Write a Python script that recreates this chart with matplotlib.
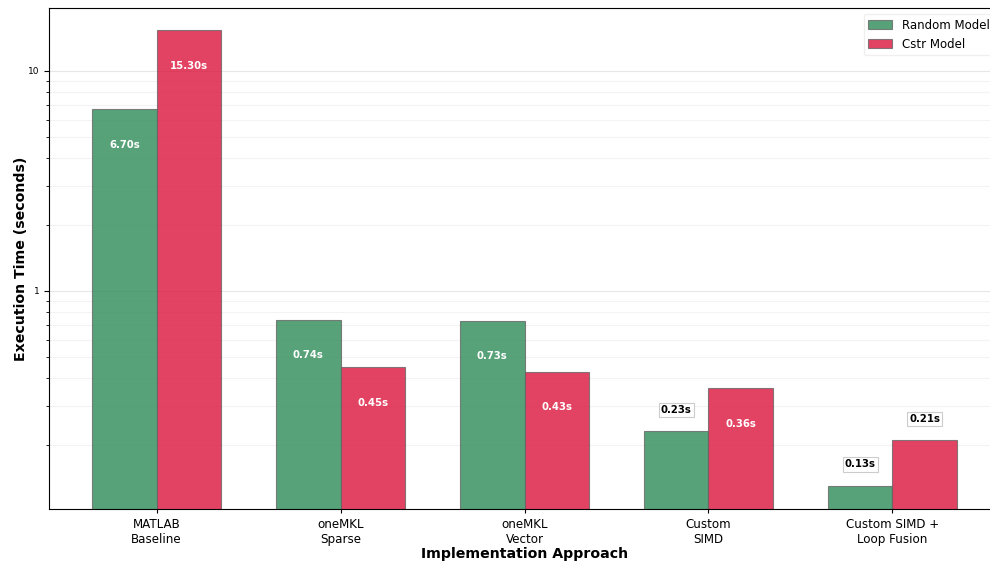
import numpy as np
import matplotlib.pyplot as plt
from matplotlib.ticker import LogLocator, NullFormatter, FuncFormatter

# Data
approaches = ['MATLAB\nBaseline', 'oneMKL\nSparse', 'oneMKL\nVector', 'Custom\nSIMD', 'Custom SIMD +\nLoop Fusion']
random_times = [6.70, 0.74, 0.73, 0.23, 0.13]
cstr_times = [15.30, 0.45, 0.43, 0.36, 0.21]

x = np.arange(len(approaches))
width = 0.35

fig = plt.figure(figsize=(9.9, 5.66), dpi=100)
# axes runs slightly past the right edge, as in the cropped original
ax = fig.add_axes([49 / 990, 57 / 566, 951 / 990, 501 / 566])

bars1 = ax.bar(x - width / 2, random_times, width, label='Random Model',
               color='seagreen', alpha=0.8, edgecolor='#666666', linewidth=0.8)
bars2 = ax.bar(x + width / 2, cstr_times, width, label='Cstr Model',
               color='crimson', alpha=0.8, edgecolor='#666666', linewidth=0.8)

ax.set_yscale('log')
ax.set_ylim(0.102, 19.3)

# Value labels: inside the bar when tall enough, above it in a box otherwise
for bars in (bars1, bars2):
    for b in bars:
        h = b.get_height()
        cx = b.get_x() + b.get_width() / 2
        if h > 0.3:
            ax.text(cx, h * 0.69, f'{h:.2f}s', ha='center', va='center',
                    color='white', fontweight='bold', fontsize=7.3)
        else:
            ax.text(cx, h * 1.25, f'{h:.2f}s', ha='center', va='center',
                    color='black', fontweight='bold', fontsize=7.3,
                    bbox=dict(boxstyle='square,pad=0.2', facecolor='white',
                              edgecolor='#cccccc', linewidth=0.8))

ax.set_xticks(x)
ax.set_xticklabels(approaches, fontsize=8.6)
ax.set_xlabel('Implementation Approach', fontsize=10.2, fontweight='bold', labelpad=1)
ax.set_ylabel('Execution Time (seconds)', fontsize=10.2, fontweight='bold', labelpad=0)

ax.yaxis.set_major_locator(LogLocator(base=10))
ax.yaxis.set_major_formatter(FuncFormatter(lambda v, p: f'{v:g}'))
ax.yaxis.set_minor_formatter(NullFormatter())
ax.tick_params(axis='y', labelsize=6.5)
ax.tick_params(axis='x', length=3)

ax.grid(True, which='major', axis='y', color='#b0b0b0', alpha=0.3)
ax.grid(True, which='minor', axis='y', color='#b0b0b0', alpha=0.15)
ax.set_axisbelow(True)

ax.legend(loc='upper right', fontsize=8.5, framealpha=0.9, edgecolor='#eeeeee')

plt.savefig('out.png', dpi=100)
